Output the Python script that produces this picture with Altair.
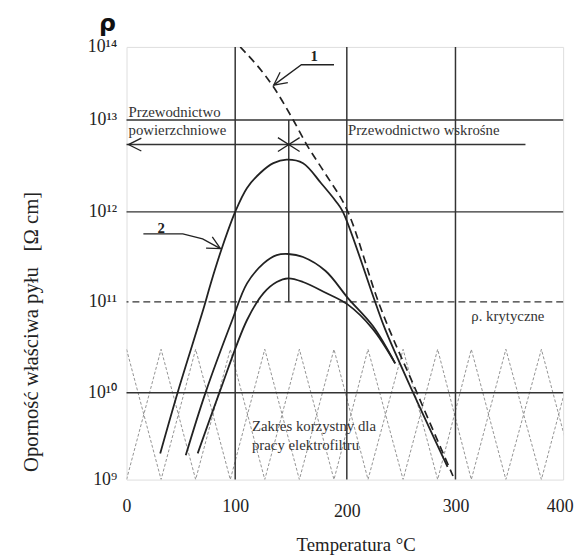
import altair as alt
import pandas as pd

# ---- data (temperature in °C, resistivity in Ω·cm) ----
c1_t = [104.5, 134.5, 152, 164, 179, 201, 229, 264.5, 297.7]
c1_r = [1.0e14, 2.8e13, 1.0e13, 5.4e12, 2.8e12, 1.0e12, 1.0e11, 1.0e10, 1.1e9]

c2_t = [31, 47, 71.5, 77.5, 88.2, 100, 110.6, 122.4, 134.2, 146, 160.8, 177, 190.3, 196.5,
        226, 235.5, 261, 292.7]
c2_r = [2.0e9, 1.0e10, 8.9e10, 1.6e11, 4.1e11, 1.0e12, 1.82e12, 2.65e12, 3.39e12, 3.7e12,
        3.39e12, 2.05e12, 1.3e12, 1.0e12, 1.0e11, 4.9e10, 1.0e10, 1.4e9]

c3_t = [54.5, 72.7, 97.3, 110.6, 125.4, 137.2, 147.5, 160.8, 181, 201, 224, 244.5]
c3_r = [1.9e9, 1.0e10, 6.3e10, 1.6e11, 2.67e11, 3.3e11, 3.4e11, 3.15e11,
        2.2e11, 1.1e11, 5.4e10, 2.1e10]

c4_t = [65.5, 85.5, 110.6, 125.4, 137.2, 147.5, 160.8, 181, 201, 224, 244.5]
c4_r = [2.0e9, 1.0e10, 6.3e10, 1.25e11, 1.66e11, 1.82e11, 1.66e11, 1.26e11,
        9.3e10, 5.0e10, 2.1e10]

hatch_t = [0, 31.8, 63.6, 95.5, 126.5, 157.5, 188.5, 219.5, 251.8, 283.6, 314.7, 346.8, 379.8, 411.9]
hatch_top = 3.0e10
hatch_bottom = 1.0e9

grid_t = [100, 200, 300]
grid_r = [1e10, 1e12, 1e13]
critical_r = 1e11
split_t = 148
split_r = [1e13, 1e11]
cond_r = 5.4e12
cond_t = [0, 365]

lead1_t = [188.5, 159.3, 134.5]
lead1_r = [5.7e13, 5.7e13, 3.0e13]
lead2_t = [15.5, 51.8, 70, 86.4]
lead2_r = [5.7e11, 5.7e11, 5.0e11, 3.9e11]

ann_t = [1.8, 1.8, 201, 314.7, 115, 115]
ann_r = [1.29e13, 7.8e12, 7.8e12, 6.9e10, 4.1e9, 2.5e9]
ann_text = ["Przewodnictwo", "powierzchniowe", "Przewodnictwo wskrośne",
            "ρ. krytyczne", "Zakres korzystny dla", "pracy elektrofiltru"]
num_t = [170.8, 31.8]
num_r = [7.6e13, 6.6e11]
num_text = ["1", "2"]

x_ticks = [0, 100, 200, 300, 400]
y_ticks = [1e9, 1e10, 1e11, 1e12, 1e13, 1e14]

SERIF = "Liberation Serif"
INK = "#222"

xs = alt.Scale(domain=[0, 100, 200, 300, 400], range=[0, 110, 223, 333, 442], nice=False)
ys = alt.Scale(type="log", domain=y_ticks, range=[438, 350, 258, 167, 74, 0], nice=False)

xax = alt.Axis(values=x_ticks, title="Temperatura °C", grid=False, ticks=False, domain=False,
               labelPadding={"condition": {"test": "datum.value == 200", "value": 23}, "value": 18},
               labelAlign={"condition": {"test": "datum.value == 400", "value": "right"}, "value": "center"},
               labelOffset={"condition": {"test": "datum.value == 400", "value": 10}, "value": 0},
               labelFont=SERIF, labelFontSize=18, labelColor=INK,
               labelFlush=False, labelOverlap=False,
               titleFont=SERIF, titleFontSize=19, titleFontWeight="normal", titleColor=INK,
               titleX=232, titleY=66, titleBaseline="middle", titleAlign="center")
yax = alt.Axis(values=y_ticks, grid=False, ticks=False, domain=False,
               title="Oporność właściwa pyłu" + "\u00a0" * 3 + "[Ω cm]",
               labelExpr="'10' + ['⁹','¹⁰','¹¹','¹²','¹³','¹⁴'][round(log(datum.value)/LN10) - 9]",
               labelPadding=10, labelFont=SERIF, labelFontSize=18, labelColor=INK,
               labelFlush=False, labelOverlap=False,
               titleFont=SERIF, titleFontSize=21, titleFontWeight="normal", titleColor=INK,
               titleX=-96, titleY=288, titleBaseline="middle", titleAlign="center")


def X(f):
    return alt.X(f, type="quantitative", scale=xs, axis=xax)


def Y(f):
    return alt.Y(f, type="quantitative", scale=ys, axis=yax)


# hatch zig-zags (two interleaved zig-zag lines)
hrows = []
for s in range(2):
    for i, t in enumerate(hatch_t):
        top = (i + s) % 2 == 0
        hrows.append({"g": s, "o": i, "t": t, "r": hatch_top if top else hatch_bottom})
hatch_df = pd.DataFrame(hrows)

rows = []
for name, ts, rs in [("2", c2_t, c2_r), ("3", c3_t, c3_r), ("4", c4_t, c4_r)]:
    for i, (t, r) in enumerate(zip(ts, rs)):
        rows.append({"c": name, "o": i, "t": t, "r": r})
solid_df = pd.DataFrame(rows)
dash_df = pd.DataFrame({"t": c1_t, "r": c1_r, "o": list(range(len(c1_t)))})

lrows = []
for name, ts, rs in [("1", lead1_t, lead1_r), ("2", lead2_t, lead2_r)]:
    for i, (t, r) in enumerate(zip(ts, rs)):
        lrows.append({"g": name, "o": i, "t": t, "r": r})
lead_df = pd.DataFrame(lrows)

hatch = alt.Chart(hatch_df).mark_line(color="#777", strokeWidth=0.8, strokeDash=[3, 2], clip=True).encode(
    x=X("t"), y=Y("r"), detail="g:N", order="o:Q")

hgrid = alt.Chart(pd.DataFrame({"r": grid_r})).mark_rule(color="#333", strokeWidth=1.5).encode(y=Y("r"))
vgrid = alt.Chart(pd.DataFrame({"t": grid_t})).mark_rule(color="#333", strokeWidth=1.5).encode(x=X("t"))
crit = alt.Chart(pd.DataFrame({"r": [critical_r]})).mark_rule(
    color="#333", strokeWidth=1.3, strokeDash=[7, 4]).encode(y=Y("r"))
split = alt.Chart(pd.DataFrame({"t": [split_t], "r1": [split_r[0]], "r2": [split_r[1]]})).mark_rule(
    color="#333", strokeWidth=1.5).encode(x=X("t"), y=Y("r1"), y2="r2")
cond = alt.Chart(pd.DataFrame({"t1": [cond_t[0]], "t2": [cond_t[1]], "r": [cond_r]})).mark_rule(
    color="#333", strokeWidth=1.5).encode(x=X("t1"), x2="t2", y=Y("r"))

solid = alt.Chart(solid_df).mark_line(color=INK, strokeWidth=1.8, interpolate="catmull-rom").encode(
    x=X("t"), y=Y("r"), detail="c:N", order="o:Q")
dashed = alt.Chart(dash_df).mark_line(color=INK, strokeWidth=1.7, strokeDash=[8, 5],
                                      interpolate="monotone", clip=True).encode(
    x=X("t"), y=Y("r"), order="o:Q")

leads = alt.Chart(lead_df).mark_line(color=INK, strokeWidth=1.3).encode(
    x=X("t"), y=Y("r"), detail="g:N", order="o:Q")

ARROW = "M1,-0.5L0,0L1,0.5"


def head(t, r, ang):
    return alt.Chart(pd.DataFrame({"t": [t], "r": [r]})).mark_point(
        shape=ARROW, size=676, angle=ang, filled=False, stroke=INK, strokeWidth=1.3, opacity=1).encode(
        x=X("t"), y=Y("r"))


head_left = head(cond_t[0] + 1.8, cond_r, 0)
head1 = head(lead1_t[-1], lead1_r[-1], 323)
head2 = head(lead2_t[-1], lead2_r[-1], 209)

star = alt.Chart(pd.DataFrame({"t": [split_t], "r": [cond_r]})).mark_point(
    shape="M-1,-0.64L1,0.64M-1,0.64L1,-0.64", size=484, filled=False, stroke=INK,
    strokeWidth=1.3, opacity=1).encode(x=X("t"), y=Y("r"))

ann = alt.Chart(pd.DataFrame({"t": ann_t, "r": ann_r, "s": ann_text})).mark_text(
    align="left", baseline="middle", font=SERIF, fontSize=15, color="#333").encode(
    x=X("t"), y=Y("r"), text="s:N")
nums = alt.Chart(pd.DataFrame({"t": num_t, "r": num_r, "s": num_text})).mark_text(
    align="center", baseline="middle", font=SERIF, fontSize=15, fontWeight="bold", color=INK).encode(
    x=X("t"), y=Y("r"), text="s:N")

chart = alt.layer(
    hatch, hgrid, vgrid, crit, split, cond, solid, dashed, leads,
    head_left, head1, head2, star, ann, nums
).properties(
    width=442, height=438,
    autosize=alt.AutoSizeParams(type="none"),
    padding={"left": 120, "top": 36, "right": 12, "bottom": 76},
    title=alt.TitleParams(text="ρ", anchor="start", frame="group", dx=-28, dy=18, offset=1,
                          fontSize=24, font="DejaVu Sans", fontWeight="bold",
                          baseline="alphabetic", color="#111"),
).configure_view(stroke="#222", strokeWidth=1.5).configure(background="white")

chart.save("out.html", embed_options={"renderer": "svg", "actions": False})
